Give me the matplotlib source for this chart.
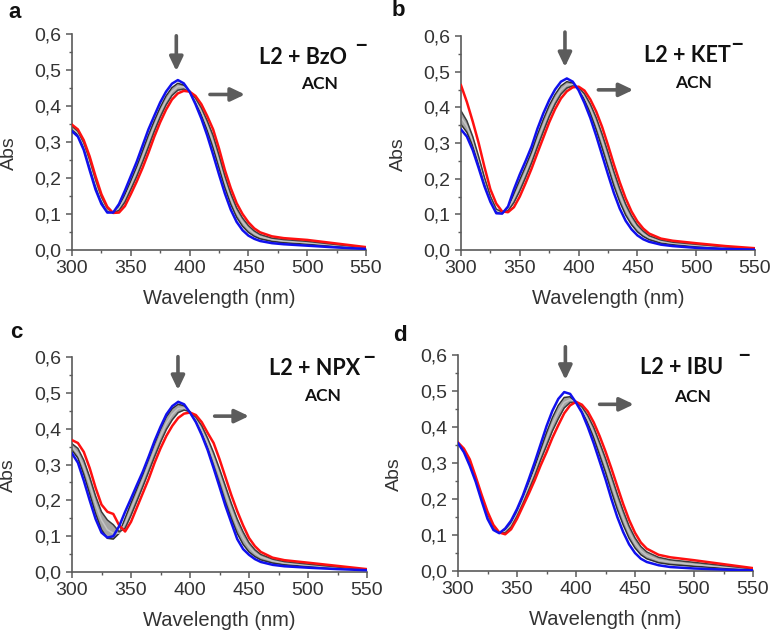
import matplotlib
matplotlib.use("Agg")
import matplotlib.pyplot as plt
from matplotlib.ticker import MultipleLocator

plt.rcParams['font.family'] = ['Liberation Sans', 'DejaVu Sans']

# wavelength grid (nm) shared by all spectra
wl = [300, 305, 310, 315, 320, 325, 330, 335, 340, 345, 350, 355, 360, 365, 370,
      375, 380, 385, 390, 395, 400, 405, 410, 415, 420, 425, 430, 435, 440, 445,
      450, 455, 460, 470, 480, 500, 525, 550]

# --- panel a: L2 + BzO-
blue_a = [.330, .315, .278, .222, .168, .128, .104, .104, .128, .165, .205, .245, .290, .335, .373,
          .410, .440, .462, .472, .463, .440, .405, .365, .318, .265, .210, .157, .112, .078, .055,
          .040, .031, .025, .019, .016, .012, .007, .003]
red_a = [.348, .335, .305, .260, .205, .155, .120, .103, .104, .122, .155, .190, .228, .270, .315,
         .355, .390, .418, .435, .442, .440, .428, .405, .372, .335, .282, .222, .172, .130, .100,
         .077, .060, .049, .038, .033, .028, .018, .008]
grey1_a = [.335, .320, .285, .232, .177, .135, .108, .104, .122, .154, .192, .231, .275, .319, .359,
           .396, .428, .451, .463, .458, .440, .411, .375, .332, .283, .228, .173, .127, .091, .066,
           .049, .038, .031, .024, .020, .016, .010, .004]
grey2_a = [.339, .325, .292, .241, .187, .142, .112, .104, .116, .144, .180, .218, .259, .303, .344,
           .383, .415, .440, .454, .453, .440, .417, .385, .345, .300, .246, .190, .142, .104, .078,
           .059, .046, .037, .029, .025, .020, .013, .006]
grey3_a = [.344, .330, .298, .251, .196, .148, .116, .103, .110, .133, .168, .204, .244, .286, .330,
           .369, .403, .429, .444, .447, .440, .422, .395, .359, .318, .264, .206, .157, .117, .089,
           .068, .053, .043, .033, .029, .024, .015, .007]

# --- panel b: L2 + KET-
blue_b = [.338, .318, .280, .230, .178, .135, .103, .102, .122, .170, .212, .250, .290, .340, .383,
          .420, .450, .472, .481, .472, .448, .412, .370, .320, .266, .212, .160, .116, .082, .058,
          .041, .030, .023, .015, .011, .006, .003, .001]
red_b = [.462, .415, .360, .300, .232, .170, .130, .108, .106, .120, .150, .188, .228, .272, .315,
         .358, .395, .425, .445, .456, .458, .447, .422, .388, .345, .294, .240, .190, .145, .108,
         .080, .060, .046, .032, .026, .019, .011, .005]
grey1_b = [.352, .330, .291, .240, .186, .140, .107, .103, .118, .158, .197, .235, .275, .323, .366,
           .405, .436, .460, .472, .468, .451, .421, .383, .337, .286, .233, .180, .135, .098, .071,
           .051, .038, .029, .019, .015, .009, .005, .002]
grey2_b = [.372, .347, .305, .252, .195, .146, .111, .104, .114, .145, .181, .219, .259, .306, .349,
           .389, .423, .449, .463, .464, .453, .430, .396, .354, .306, .253, .200, .153, .114, .083,
           .061, .045, .035, .024, .019, .013, .007, .003]
grey3_b = [.390, .362, .318, .262, .203, .151, .115, .106, .110, .133, .166, .204, .244, .289, .332,
           .374, .409, .437, .454, .460, .456, .438, .409, .371, .325, .274, .220, .172, .129, .096,
           .070, .053, .040, .028, .022, .016, .009, .004]

# --- panel c: L2 + NPX-
blue_c = [.331, .305, .255, .200, .148, .110, .096, .100, .128, .168, .205, .243, .280, .322, .366,
          .405, .440, .463, .475, .468, .445, .418, .382, .340, .290, .238, .185, .138, .092, .064,
          .048, .036, .028, .020, .016, .012, .008, .005]
red_c = [.368, .360, .335, .290, .235, .188, .168, .162, .130, .113, .140, .180, .220, .260, .305,
         .345, .380, .408, .430, .442, .445, .438, .418, .388, .360, .315, .265, .215, .170, .130,
         .095, .072, .056, .040, .033, .026, .017, .008]
grey1_c = [.340, .318, .272, .218, .163, .118, .094, .092, .108, .150, .192, .232, .272, .315, .358,
           .398, .433, .456, .468, .464, .445, .420, .385, .345, .297, .248, .196, .150, .108, .077,
           .056, .043, .034, .025, .020, .015, .010, .006]
grey2_c = [.350, .330, .292, .245, .190, .145, .118, .108, .108, .135, .175, .215, .256, .298, .340,
           .380, .415, .440, .456, .458, .447, .427, .397, .360, .316, .270, .220, .172, .128, .095,
           .070, .053, .042, .031, .025, .019, .012, .007]
grey3_c = [.358, .345, .312, .265, .212, .168, .145, .132, .112, .122, .158, .198, .238, .280, .322,
           .362, .398, .425, .445, .452, .447, .432, .408, .373, .333, .288, .240, .192, .148, .112,
           .082, .062, .049, .036, .029, .022, .014, .007]

# --- panel d: L2 + IBU-
blue_d = [.355, .330, .292, .248, .195, .145, .114, .105, .118, .140, .172, .210, .255, .302, .352,
          .402, .445, .478, .497, .492, .468, .440, .400, .355, .305, .255, .200, .150, .108, .074,
          .050, .034, .025, .016, .011, .007, .004, .002]
red_d = [.357, .340, .310, .262, .212, .165, .128, .107, .102, .116, .145, .180, .215, .252, .293,
         .330, .370, .405, .438, .460, .470, .462, .443, .413, .375, .332, .285, .235, .186, .142,
         .106, .079, .062, .045, .038, .030, .019, .008]
grey1_d = [.355, .332, .296, .251, .199, .150, .117, .105, .114, .134, .165, .202, .245, .289, .337,
           .384, .426, .460, .482, .484, .468, .445, .411, .370, .322, .274, .221, .171, .128, .091,
           .064, .045, .034, .023, .018, .013, .008, .003]
grey2_d = [.356, .335, .301, .255, .203, .155, .121, .106, .110, .128, .158, .195, .235, .277, .322,
           .366, .408, .442, .468, .476, .469, .451, .421, .384, .340, .293, .243, .193, .147, .108,
           .078, .056, .043, .030, .025, .018, .011, .005]
grey3_d = [.356, .337, .305, .258, .208, .160, .124, .106, .106, .122, .152, .187, .225, .264, .308,
           .348, .389, .423, .453, .468, .469, .456, .432, .399, .357, .313, .264, .214, .167, .125,
           .092, .068, .053, .038, .031, .024, .015, .006]

panel_letters = ['a', 'b', 'c', 'd']
anions = ['L2 + BzO', 'L2 + KET', 'L2 + NPX', 'L2 + IBU']
solvent = 'ACN'

x_ticks = [300, 350, 400, 450, 500, 550]
y_ticks = [0.0, 0.1, 0.2, 0.3, 0.4, 0.5, 0.6]
y_tick_labels = ['0,0', '0,1', '0,2', '0,3', '0,4', '0,5', '0,6']

spectra = [
    (blue_a, red_a, [grey1_a, grey2_a, grey3_a]),
    (blue_b, red_b, [grey1_b, grey2_b, grey3_b]),
    (blue_c, red_c, [grey1_c, grey2_c, grey3_c]),
    (blue_d, red_d, [grey1_d, grey2_d, grey3_d]),
]

# layout / annotation placement
W, H = 774, 634
axes_px = [(72, 34, 366, 250), (461, 36, 755, 250), (72, 357, 367, 572), (458, 355, 753, 571)]
letter_px = [(8, 12), (392, 10), (10, 332), (393, 335)]
title_xy = [(496.8, 0.535), (492.2, 0.545), (505.9, 0.567), (489.4, 0.565)]
minus_xy = [(545.5, 0.566), (534.5, 0.574), (551.5, 0.596), (542.0, 0.597)]
acn_xy = [(510.9, 0.461), (498.1, 0.468), (511.9, 0.491), (498.7, 0.483)]
down_arrow = [(388.7, 0.595, 0.497), (388.4, 0.611, 0.513), (389.8, 0.601, 0.508), (391.0, 0.623, 0.531)]
right_arrow = [(417.3, 447.1, 0.432), (416.8, 446.5, 0.449), (420.9, 450.0, 0.435), (420.0, 449.0, 0.463)]

fig = plt.figure(figsize=(W / 100, H / 100), dpi=100)
fig.patch.set_facecolor('white')

grey_cols = ['#2e2e2e', '#c4c4c4', '#3c3c3c']
ax_col = '#5a5a5a'
txt_col = '#333333'
arrow_col = '#5c5c5c'

for i in range(4):
    l, t, r, b = axes_px[i]
    ax = fig.add_axes([l / W, 1 - b / H, (r - l) / W, (b - t) / H])
    blue, red, greys = spectra[i]

    ax.fill_between(wl, greys[0], greys[2], color='#a4a4a4', lw=0, zorder=1)
    for g, c in zip(greys, grey_cols):
        ax.plot(wl, g, color=c, lw=1.1, zorder=2)
    ax.plot(wl, red, color='#ff1010', lw=1.8, zorder=3)
    ax.plot(wl, blue, color='#1010ee', lw=1.8, zorder=4)

    ax.set_xlim(300, 550)
    ax.set_ylim(0, 0.6)
    ax.set_xticks(x_ticks)
    ax.set_yticks(y_ticks)
    ax.set_yticklabels(y_tick_labels)
    ax.xaxis.set_minor_locator(MultipleLocator(25))
    ax.yaxis.set_minor_locator(MultipleLocator(0.05))
    for s in ['top', 'right']:
        ax.spines[s].set_visible(False)
    for s in ['left', 'bottom']:
        ax.spines[s].set_color(ax_col)
        ax.spines[s].set_linewidth(1.2)
    ax.tick_params(which='major', direction='out', length=4, width=1.1, color=ax_col,
                   labelsize=14, labelcolor=txt_col)
    ax.tick_params(axis='x', which='major', pad=3)
    ax.tick_params(axis='y', which='major', pad=3.5)
    ax.tick_params(which='minor', direction='out', length=2.5, width=1.0, color=ax_col)

    ax.set_xlabel('Wavelength (nm)', fontsize=14.5, color=txt_col)
    ax.set_ylabel('Abs', fontsize=14, color=txt_col)
    ax.xaxis.set_label_coords(0.5, -0.18)
    ax.yaxis.set_label_coords(-0.185, 0.45)

    # titration arrows
    ax.annotate('', xy=(down_arrow[i][0], down_arrow[i][2]), xytext=(down_arrow[i][0], down_arrow[i][1]),
                arrowprops=dict(arrowstyle='-|>,head_length=0.42,head_width=0.2', lw=2.6,
                                color=arrow_col, shrinkA=0, shrinkB=0, mutation_scale=20),
                annotation_clip=False)
    ax.annotate('', xy=(right_arrow[i][1], right_arrow[i][2]), xytext=(right_arrow[i][0], right_arrow[i][2]),
                arrowprops=dict(arrowstyle='-|>,head_length=0.42,head_width=0.2', lw=2.6,
                                color=arrow_col, shrinkA=0, shrinkB=0, mutation_scale=20),
                annotation_clip=False)

    ax.text(title_xy[i][0], title_xy[i][1], anions[i], ha='center', va='center',
            fontsize=15.5, fontweight='bold', family=['Lato', 'DejaVu Sans'], color='#111111')
    ax.text(minus_xy[i][0], minus_xy[i][1], '\u2212', ha='center', va='center',
            fontsize=14, fontweight='bold', color='#111111')
    ax.text(acn_xy[i][0], acn_xy[i][1], solvent, ha='center', va='center',
            fontsize=12.5, fontweight='bold', family=['Lato', 'DejaVu Sans'], color='#111111')

    fig.text(letter_px[i][0] / W, 1 - letter_px[i][1] / H, panel_letters[i], ha='left', va='center',
             fontsize=16, fontweight='bold', color='#111111')

fig.savefig('out.png', dpi=100, facecolor='white')
